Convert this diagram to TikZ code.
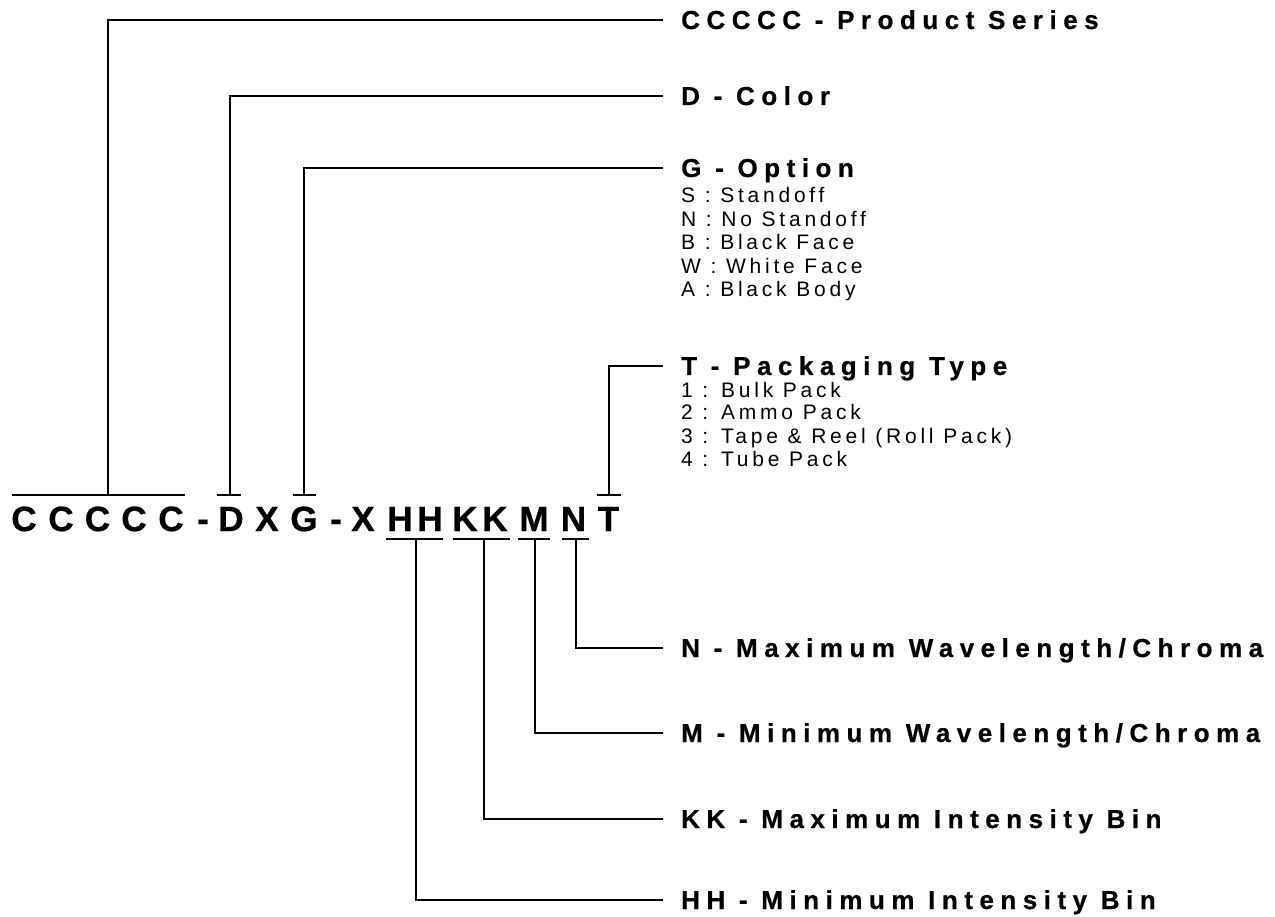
\documentclass[tikz,border=0pt]{standalone}
\usepackage{fontspec}
\setmainfont{Liberation Sans}
\newfontfamily\headfont{Liberation Sans}[LetterSpace=25,FakeBold=0.6]
\newfontfamily\itemfont{Liberation Sans}[LetterSpace=18]
\newfontfamily\codefont{Liberation Sans}[FakeBold=0.8]
\begin{document}
\begin{tikzpicture}[x=1pt,y=-1pt,
  conn/.style={line width=2.8pt, line cap=butt, line join=miter},
  head/.style={anchor=base west, inner sep=0pt, font=\headfont\bfseries\fontsize{26}{30}\selectfont},
  item/.style={anchor=base west, inner sep=0pt, font=\itemfont\fontsize{21}{25}\selectfont},
  code/.style={anchor=base, inner sep=0pt, font=\codefont\bfseries\fontsize{35}{42}\selectfont}]
\useasboundingbox[fill=white] (0,0) rectangle (1275,917);

% part code letters
\node[code] (c1) at (24,531) {C};
\node[code] (c2) at (61,531) {C};
\node[code] (c3) at (97.5,531) {C};
\node[code] (c4) at (134,531) {C};
\node[code] (c5) at (171,531) {C};
\node[code] (d1) at (203,531) {-};
\node[code] (cD) at (231,531) {D};
\node[code] (cX1) at (267,531) {X};
\node[code] (cG) at (304,531) {G};
\node[code] (d2) at (336,531) {-};
\node[code] (cX2) at (363,531) {X};
\node[code] (h1) at (400,531) {H};
\node[code] (h2) at (430,531) {H};
\node[code] (k1) at (465,531) {K};
\node[code] (k2) at (495,531) {K};
\node[code] (cM) at (534,531) {M};
\node[code] (cN) at (573.5,531) {N};
\node[code] (cT) at (608.5,531) {T};

% bars
\coordinate (bCa) at (12,495);  \coordinate (bCb) at (185,495); \coordinate (jC) at (108,495);
\coordinate (bDa) at (217,495); \coordinate (bDb) at (241,495); \coordinate (jD) at (230,495);
\coordinate (bGa) at (293,495); \coordinate (bGb) at (316,495); \coordinate (jG) at (304,495);
\coordinate (bTa) at (597,495); \coordinate (bTb) at (621,495); \coordinate (jT) at (609,495);
\coordinate (bHa) at (386,539); \coordinate (bHb) at (443,539); \coordinate (jH) at (416,539);
\coordinate (bKa) at (453,539); \coordinate (bKb) at (510,539); \coordinate (jK) at (484,539);
\coordinate (bMa) at (518,539); \coordinate (bMb) at (550,539); \coordinate (jM) at (535,539);
\coordinate (bNa) at (562,539); \coordinate (bNb) at (589,539); \coordinate (jN) at (576,539);
\foreach \b in {C,D,G,T,H,K,M,N}{\draw[conn] (b\b a) -- (b\b b);}

% line ends
\coordinate (eC) at (663,20);
\coordinate (eD) at (663,96);
\coordinate (eG) at (663,168);
\coordinate (eT) at (663,366);
\coordinate (eN) at (663,648);
\coordinate (eM) at (663,733);
\coordinate (eK) at (663,819);
\coordinate (eH) at (663,900);

\draw[conn] (jC) |- (eC);
\draw[conn] (jD) |- (eD);
\draw[conn] (jG) |- (eG);
\draw[conn] (jT) |- (eT);
\draw[conn] (jN) |- (eN);
\draw[conn] (jM) |- (eM);
\draw[conn] (jK) |- (eK);
\draw[conn] (jH) |- (eH);

% labels
\node[head] (lC) at (681,29) {CCCCC - Product Series};
\node[head] (lD) at (681,105) {D - Color};
\node[head] (lG) at (681,177) {G - Option};
\node[item] (g1) at (681,203) {S : Standoff};
\node[item] (g2) at (681,226.5) {N : No Standoff};
\node[item] (g3) at (681,250) {B : Black Face};
\node[item] (g4) at (681,273.5) {W : White Face};
\node[item] (g5) at (681,297) {A : Black Body};
\node[head] (lT) at (681,375) {T - Packaging Type};
\node[item] (t1) at (681,397) {1 : Bulk Pack};
\node[item] (t2) at (681,420) {2 : Ammo Pack};
\node[item] (t3) at (681,443) {3 : Tape \& Reel (Roll Pack)};
\node[item] (t4) at (681,466) {4 : Tube Pack};
\node[head] (lN) at (681,657) {N - Maximum Wavelength/Chroma};
\node[head] (lM) at (681,742) {M - Minimum Wavelength/Chroma};
\node[head] (lK) at (681,828) {KK - Maximum Intensity Bin};
\node[head] (lH) at (681,909) {HH - Minimum Intensity Bin};
\end{tikzpicture}
\end{document}
